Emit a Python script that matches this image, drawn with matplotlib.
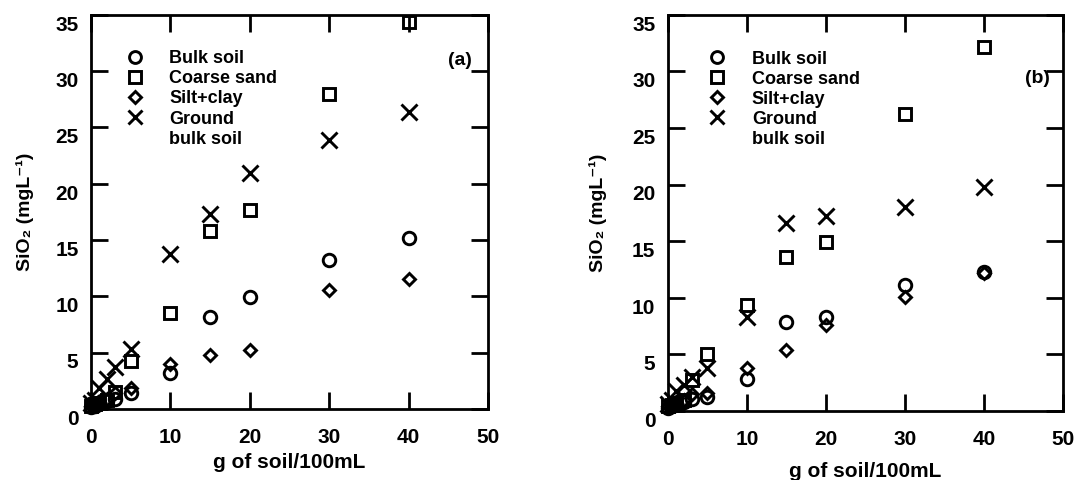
from matplotlib import pyplot as plt
from matplotlib.lines import Line2D
import matplotlib.transforms as mtransforms

plt.rcParams['font.family'] = ['Liberation Sans', 'DejaVu Sans']
plt.rcParams['font.weight'] = 'bold'
plt.rcParams['axes.labelweight'] = 'bold'

# g of soil / 100 mL
soil_g = [0, 0.5, 1, 2, 3, 5, 10, 15, 20, 30, 40]

# panel (a)
bulk_a = [0.2, 0.3, 0.5, 0.7, 0.9, 1.4, 3.2, 8.2, 9.9, 13.2, 15.2]
coarse_a = [0.3, 0.4, 0.5, 0.8, 1.5, 4.3, 8.5, 15.8, 17.7, 28.0, 34.4]
silt_a = [0.3, 0.4, 0.6, 0.9, 1.4, 1.9, 4.0, 4.8, 5.2, 10.6, 11.5]
ground_a = [0.5, 0.8, 1.9, 2.7, 3.7, 5.3, 13.8, 17.3, 21.0, 23.9, 26.4]

# panel (b)
bulk_b = [0.3, 0.4, 0.6, 0.8, 1.1, 1.2, 2.8, 7.9, 8.3, 11.1, 12.3]
coarse_b = [0.4, 0.5, 0.7, 1.0, 2.7, 5.0, 9.4, 13.6, 14.9, 26.2, 32.2]
silt_b = [0.4, 0.5, 0.7, 1.0, 1.5, 1.6, 3.8, 5.4, 7.6, 10.1, 12.2]
ground_b = [0.6, 1.0, 1.8, 2.3, 3.0, 3.8, 8.3, 16.6, 17.2, 18.0, 19.8]

labels = ['Bulk soil', 'Coarse sand', 'Silt+clay', 'Ground', 'bulk soil']
xticks = [0, 10, 20, 30, 40, 50]
yticks = [0, 5, 10, 15, 20, 25, 30, 35]

fig = plt.figure(figsize=(10.86, 4.8), dpi=100)
ax_a = fig.add_axes([0.0838, 0.148, 0.3656, 0.821])
ax_b = fig.add_axes([0.615, 0.1437, 0.3637, 0.8253])


def draw(ax, bulk, coarse, silt, ground, tag, leg_x, tag_xy, xlab_pad, ylab_pad):
    kw = dict(ls='none', color='black', mfc='none', mew=2.1, clip_on=False)
    ax.plot(soil_g, bulk, marker='o', ms=9, **kw)
    ax.plot(soil_g, coarse, marker='s', ms=9, **kw)
    ax.plot(soil_g, silt, marker='D', ms=6.5, **kw)
    ax.plot(soil_g, ground, marker='x', ms=11, **kw)
    ax.set_xlim(0, 50)
    ax.set_ylim(0, 35)
    ax.set_xticks(xticks)
    ax.set_yticks(yticks)
    ax.tick_params(direction='in', top=True, right=True, length=12, width=2,
                   labelsize=15)
    ax.tick_params(axis='x', pad=14)
    ax.tick_params(axis='y', pad=9)
    off = mtransforms.ScaledTranslation(0, -6 / 72, fig.dpi_scale_trans)
    for t in ax.get_yticklabels():
        t.set_transform(t.get_transform() + off)
    for s in ax.spines.values():
        s.set_linewidth(2)
    ax.set_xlabel('g of soil/100mL', fontsize=15, labelpad=xlab_pad)
    ax.set_ylabel('SiO₂ (mgL⁻¹)', fontsize=14, labelpad=ylab_pad)

    handles = [l for l in ax.get_lines()] + [Line2D([], [], ls='none')]
    ax.legend(handles, labels, loc='upper left', bbox_to_anchor=(leg_x, 0.91),
              frameon=False, fontsize=13, handlelength=0.9, handletextpad=1.45,
              labelspacing=0.17, borderpad=0, borderaxespad=0, markerscale=0.95)
    ax.text(tag_xy[0], tag_xy[1], tag, transform=ax.transAxes, fontsize=14,
            ha='center', va='center')


draw(ax_a, bulk_a, coarse_a, silt_a, ground_a, '(a)', 0.09, (0.93, 0.885), 4, 15)
draw(ax_b, bulk_b, coarse_b, silt_b, ground_b, '(b)', 0.105, (0.935, 0.84), 9, 18)

fig.savefig('out.png', dpi=100)
